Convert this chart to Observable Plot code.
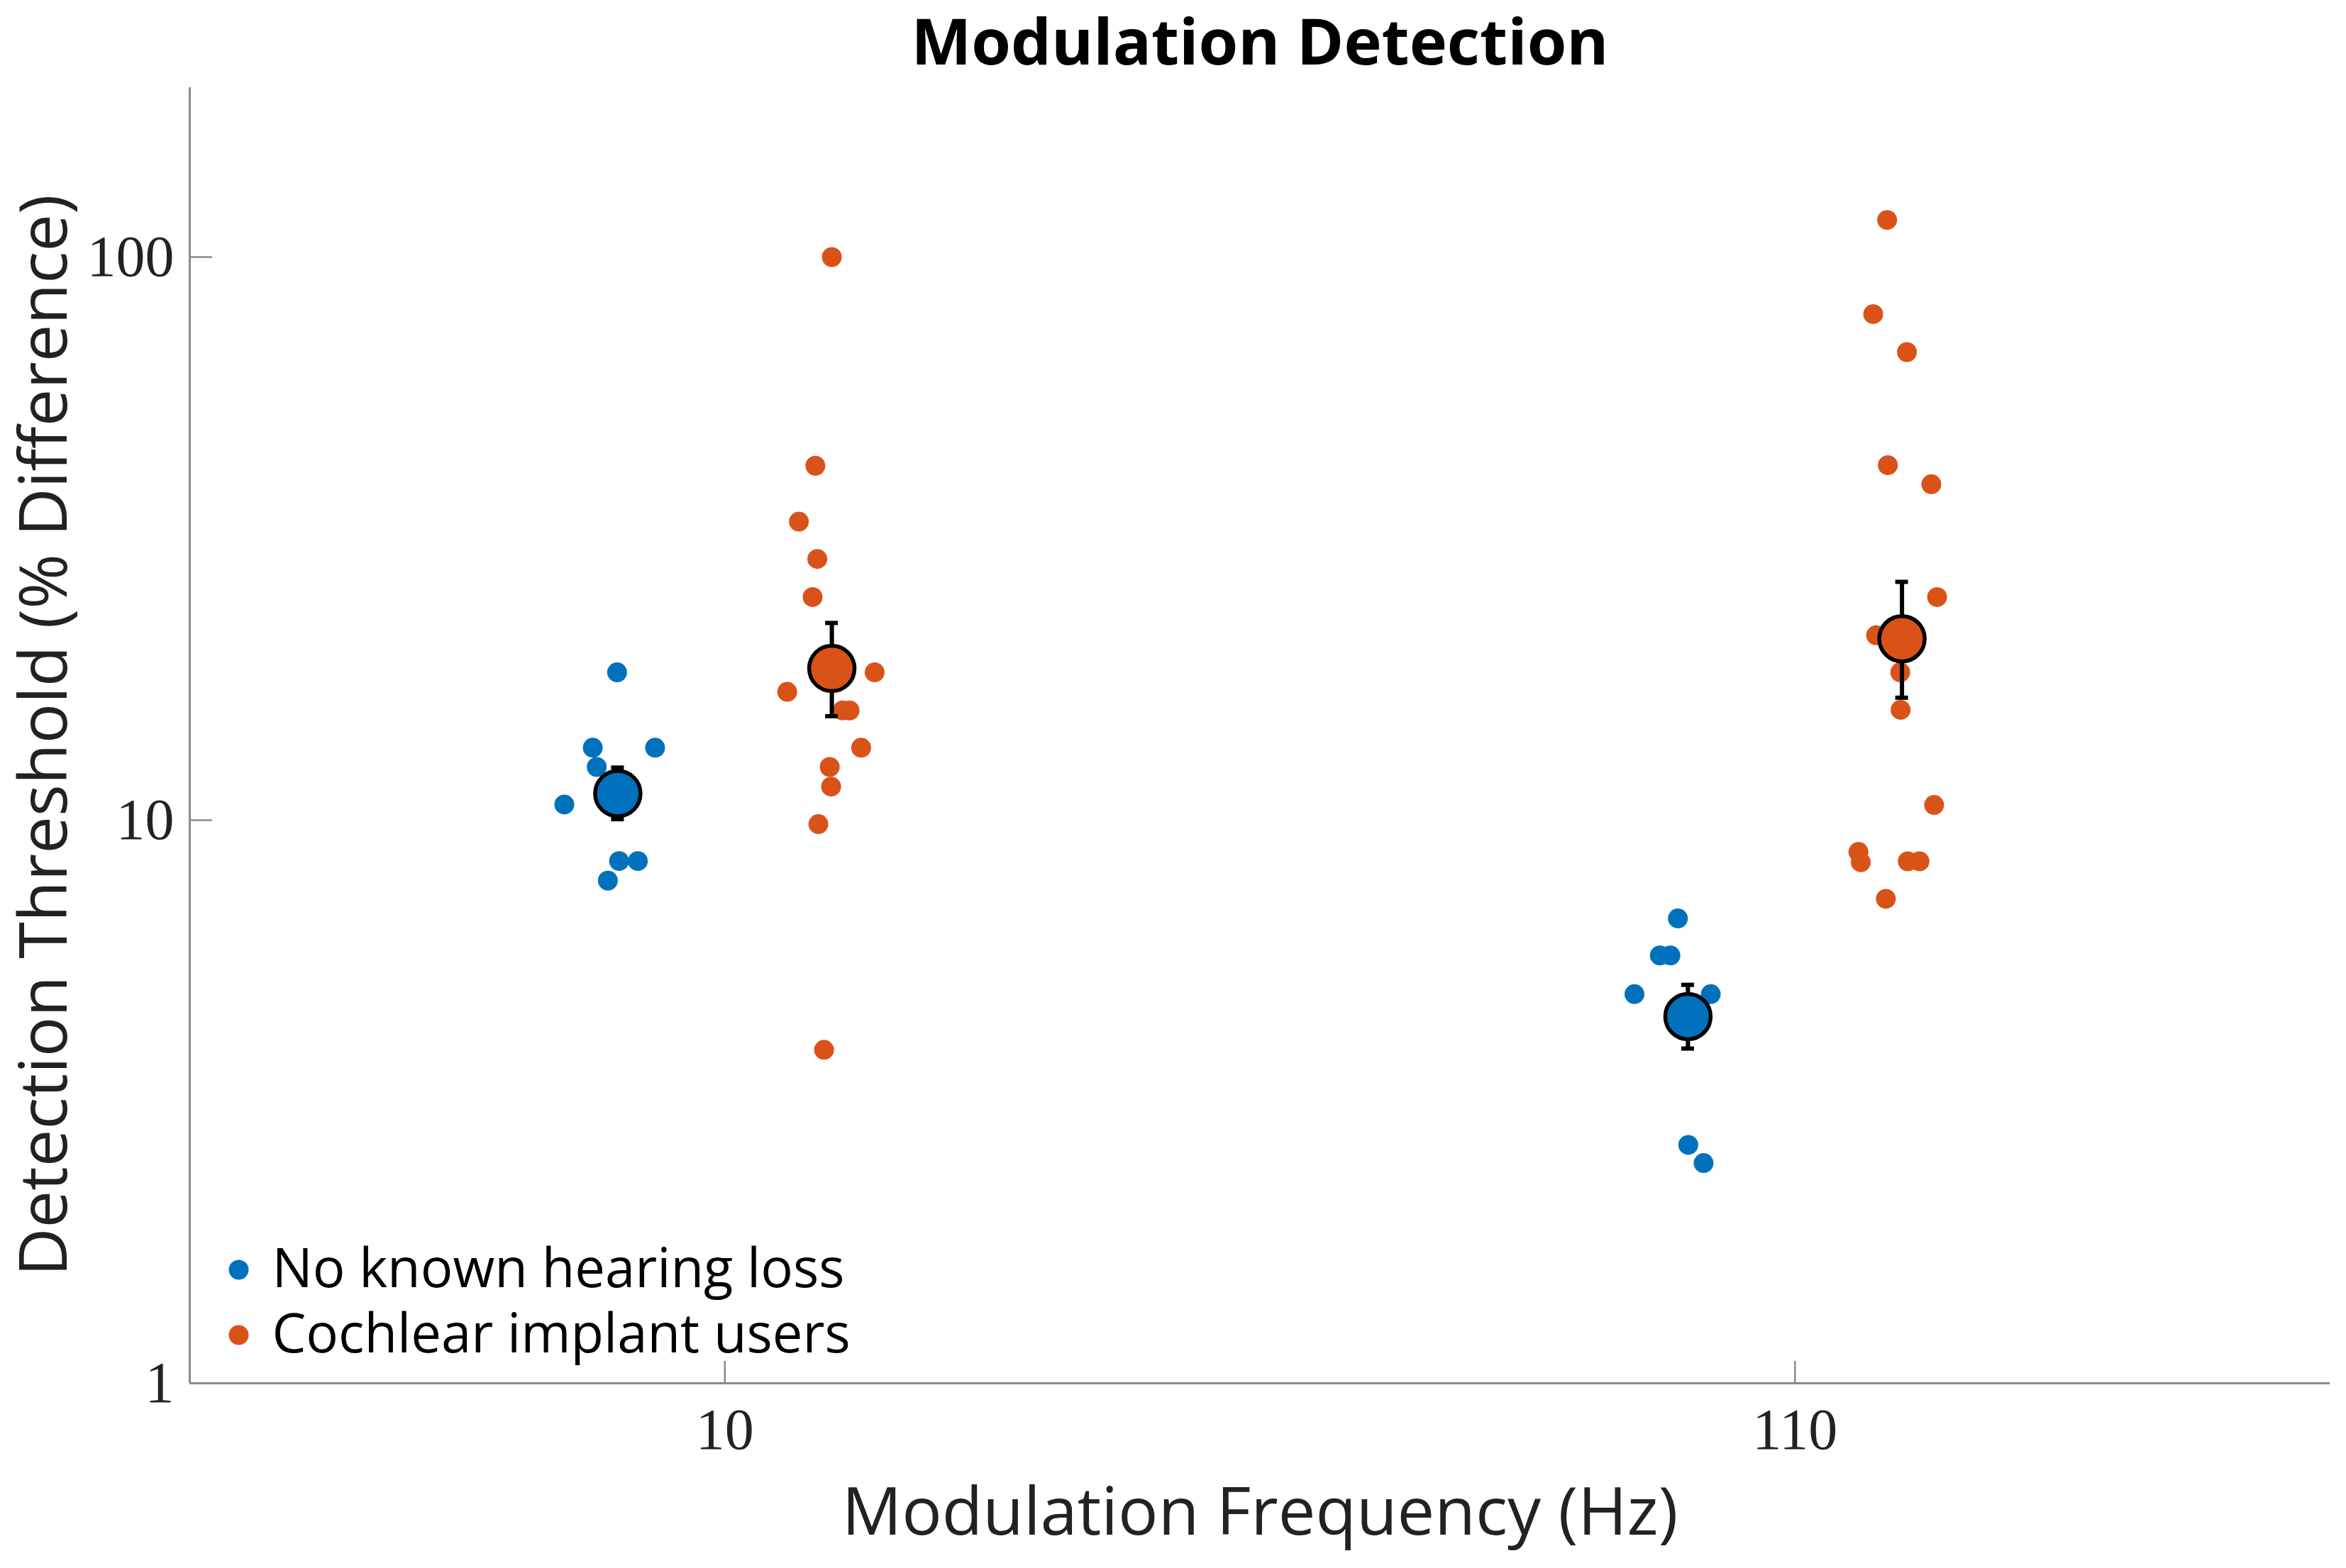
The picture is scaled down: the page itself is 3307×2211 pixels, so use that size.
<!DOCTYPE html>
<html>
<head>
<meta charset="utf-8">
<script src="https://cdn.jsdelivr.net/npm/d3@7"></script>
<script src="https://cdn.jsdelivr.net/npm/@observablehq/plot@0.6"></script>
<style>
  body { margin: 0; background: #fff; }
</style>
</head>
<body>
<div id="chart"></div>
<script>
// categories and tick labels
const freqLabels = ["10", "110"];
const freqPos = [1, 2];
const yTicks = [1, 10, 100];
const groups = ["No known hearing loss", "Cochlear implant users"];
const colors = ["#0072BD", "#D95319"];

// individual thresholds (% difference), with the jitter
const nh10 = [18.3, 13.45, 13.45, 12.43, 10.66, 8.46, 8.46, 7.81];
const nh10Jit = [-0.1007, -0.1234, -0.0652, -0.1197, -0.15, -0.0988, -0.0813, -0.1093];
const ci10 = [100, 42.6, 33.9, 29.1, 24.9, 18.3, 16.9, 15.66, 15.66, 13.45, 12.43, 11.47, 9.84, 3.91];
const ci10Jit = [0.1, 0.0846, 0.0692, 0.0864, 0.082, 0.14, 0.0583, 0.11, 0.1166, 0.1274, 0.098, 0.0993, 0.0874, 0.0927];
const nh110 = [6.69, 5.75, 5.75, 4.91, 4.91, 2.65, 2.46];
const nh110Jit = [-0.1094, -0.1263, -0.1164, -0.15, -0.0787, -0.0997, -0.0854];
const ci110 = [116.4, 79.2, 67.8, 42.7, 39.5, 24.9, 21.3, 18.3, 15.7, 10.64, 8.78, 8.42, 8.45, 8.45, 7.25];
const ci110Jit = [0.0861, 0.0731, 0.1046, 0.0868, 0.1274, 0.1328, 0.0758, 0.0984, 0.0987, 0.13, 0.0593, 0.0615, 0.1054, 0.1164, 0.0849];

// group means with error bars, per frequency
const groupOffset = [-0.1, 0.1];
const nhMean = [11.15, 4.48];
const nhLo = [10.04, 3.93];
const nhHi = [12.4, 5.1];
const ciMean = [18.6, 21.0];
const ciLo = [15.3, 16.5];
const ciHi = [22.4, 26.5];

// build tables
const points = [];
[[nh10, nh10Jit, 0, 0], [ci10, ci10Jit, 1, 0], [nh110, nh110Jit, 0, 1], [ci110, ci110Jit, 1, 1]]
  .forEach(([vals, jit, g, f]) => {
    vals.forEach((v, i) => points.push({group: groups[g], x: freqPos[f] + jit[i], y: v}));
  });

const means = [];
[[nhMean, nhLo, nhHi], [ciMean, ciLo, ciHi]].forEach(([m, lo, hi], g) => {
  m.forEach((v, f) => means.push({group: groups[g], x: freqPos[f] + groupOffset[g], y: v, lo: lo[f], hi: hi[f]}));
});

const W = 3307, H = 2211;
const mL = 267, mR = 23, mT = 123, mB = 261;
const plotW = W - mL - mR, plotH = H - mT - mB;
const xDomain = [0.5, 2.5];
const capHalf = 9 / (plotW / (xDomain[1] - xDomain[0]));
const axisGray = "#8a8a8a";
const sans = "'Open Sans', 'Noto Sans', sans-serif";
const serif = "'Liberation Serif', 'DejaVu Serif', serif";

const marks = [
  // axis lines and inward ticks
  Plot.ruleY([1], {stroke: axisGray, strokeWidth: 3}),
  Plot.ruleX([xDomain[0]], {stroke: axisGray, strokeWidth: 3}),
  Plot.ruleY(yTicks, {insetRight: plotW - 32, stroke: axisGray, strokeWidth: 2.5}),
  Plot.ruleX(freqPos, {insetTop: plotH - 31, stroke: axisGray, strokeWidth: 2.5}),
  Plot.text(yTicks, {x: xDomain[0], y: d => d, text: d => String(d), textAnchor: "end", dx: -22,
    fontFamily: serif, fontSize: 82, fill: "#222"}),
  Plot.text(freqPos, {x: d => d, y: 1, text: (d, i) => freqLabels[i], dy: 66,
    fontFamily: serif, fontSize: 82, fill: "#222"}),

  // individual points
  Plot.dot(points, {x: "x", y: "y", r: 14, fill: "group"}),

  // error bars and means
  Plot.ruleX(means, {x: "x", y1: "lo", y2: "hi", stroke: "black", strokeWidth: 6}),
  Plot.ruleY(means, {x1: d => d.x - capHalf, x2: d => d.x + capHalf, y: "hi", stroke: "black", strokeWidth: 6}),
  Plot.ruleY(means, {x1: d => d.x - capHalf, x2: d => d.x + capHalf, y: "lo", stroke: "black", strokeWidth: 6}),
  Plot.dot(means, {x: "x", y: "y", r: 32, fill: "group", stroke: "black", strokeWidth: 5.5}),

  // titles
  Plot.text(["Modulation Detection"], {frameAnchor: "top", dy: -61, lineAnchor: "middle", textAnchor: "middle",
    fontSize: 90, fontWeight: "bold", fontFamily: sans}),
  Plot.text(["Modulation Frequency (Hz)"], {frameAnchor: "bottom", dy: 183, lineAnchor: "middle", textAnchor: "middle",
    fontSize: 94, fontFamily: sans, fill: "#222"}),
  Plot.text(["Detection Threshold (% Difference)"], {frameAnchor: "left", dx: -204, rotate: -90,
    lineAnchor: "middle", textAnchor: "middle", fontSize: 94, fontFamily: sans, fill: "#222"})
];

// legend, bottom left inside the axes
const legendDy = [-160, -68];
groups.forEach((g, i) => {
  marks.push(Plot.dot([g], {frameAnchor: "bottom-left", dx: 69, dy: legendDy[i], r: 14, fill: colors[i]}));
  marks.push(Plot.text([g], {frameAnchor: "bottom-left", dx: 116, dy: legendDy[i], text: d => d,
    textAnchor: "start", lineAnchor: "middle", fontSize: 76, fontFamily: sans, fill: "#000"}));
});

const chart = Plot.plot({
  width: W,
  height: H,
  marginLeft: mL,
  marginRight: mR,
  marginTop: mT,
  marginBottom: mB,
  style: {background: "white", color: "black", fontFamily: sans, overflow: "visible"},
  x: {domain: xDomain, axis: null},
  y: {type: "log", domain: [1, 200], axis: null},
  color: {domain: groups, range: colors},
  marks
});
document.getElementById("chart").append(chart);
</script>
</body>
</html>
